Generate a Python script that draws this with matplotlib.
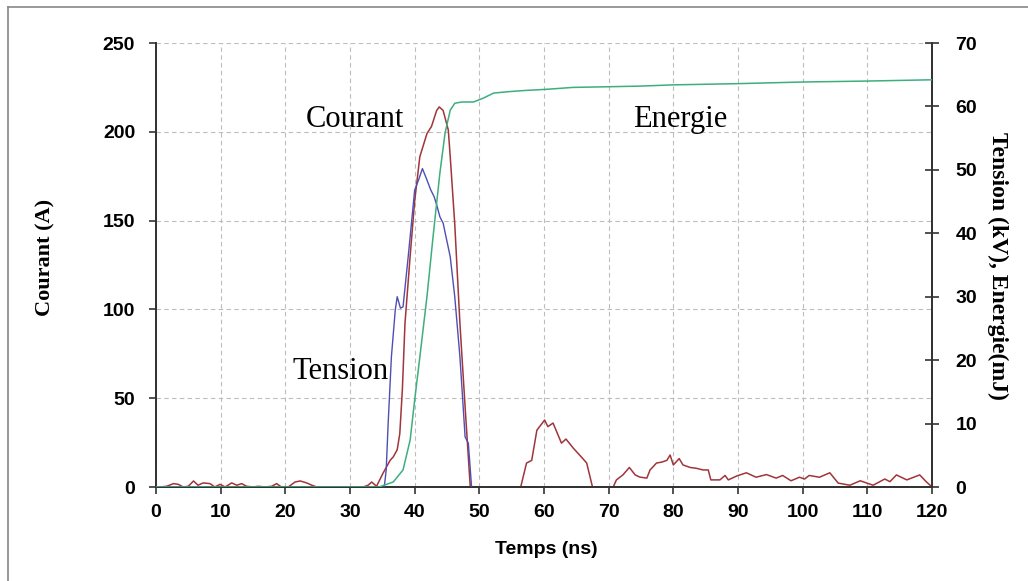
import numpy as np
from matplotlib import pyplot as plt

nan = np.nan

# Courant (A), left axis -- nan breaks where the trace dips below zero
t_courant = [0.1, 0.6, 1.65, 2.7, 3.45, 4.2, 5.0, 5.8, 6.5, 7.3, 8.35, 9.1, 9.9, 10.7, 11.7, 12.5,
             13.25, 14.0, 15.05, 15.8, 16.85, 17.9, 18.65, 19.4, 20.45, 21.5, 22.3, 23.3, 24.1, 24.85,
             28.0, 32.05, 32.8, 33.35, 34.1, 35.1, 36.2, 36.7, 37.3, 37.7, 38.1, 38.5, 39.3, 40.0,
             40.8, 41.9, 42.6, 43.4, 43.8, 44.4, 45.2, 45.5, 46.2, 47.0, 47.8, 48.6,
             52.0, 56.4, 57.3, 58.1, 58.9, 60.1, 60.6, 61.4, 62.7, 63.4, 64.5, 66.0, 66.6, 67.5,
             69.0, 70.7, 71.2, 72.2, 73.2, 74.1, 74.8, 75.9, 76.4, 77.4, 78.2, 79.0, 79.5, 80.0,
             80.9, 81.5, 82.6, 83.6, 84.6, 85.4, 85.8, 87.2, 88.0, 88.5, 89.8, 91.3, 92.8, 94.4,
             95.9, 96.9, 98.2, 99.5, 100.3, 101.0, 102.6, 104.2, 105.5, 107.3, 108.9, 110.9,
             112.7, 113.5, 114.5, 116.1, 118.1, 119.1, 120.0]
courant = [0, 0, 0.4, 1.9, 1.5, 0, 0.4, 3.4, 1.0, 2.3, 1.9, 0, 1.5, 0, 2.3, 1.0,
           1.9, 0.4, 0, 0.4, 0, 0.4, 1.9, 0, 0, 2.8, 3.4, 2.3, 1.0, 0,
           nan, 0, 1.0, 2.8, 0.4, 7.7, 15, 17, 21, 30, 55, 92, 130, 161,
           186, 199, 203, 212, 214, 212, 201, 186, 148, 92, 45, 0,
           nan, 0, 13.5, 15, 32, 37.7, 34, 36, 24.7, 27, 22, 16, 13.5, 0,
           nan, 0, 4, 6.8, 11, 6.8, 5.6, 5, 9.6, 13.5, 14, 15, 18, 12.4,
           16, 12.4, 11, 10.5, 9.6, 9.6, 4, 4, 6.5, 4, 6.2, 8, 5.5, 7,
           5, 6.5, 3.5, 5.5, 4.5, 6.5, 5.5, 8, 2.2, 1, 3.5, 1,
           4.5, 3, 6.8, 4, 6.8, 3, 0]

# Tension (kV), right axis
t_tension = [0, 7.5, 20.0, 35.3, 35.6, 35.9, 36.4, 37.0, 37.3, 37.8, 38.2, 39.0, 40.0, 40.6, 41.2,
             41.9, 42.5, 43.0, 43.4, 43.9, 44.4, 45.5, 46.2, 47.0, 47.8, 48.3, 48.8]
tension = [0, 0, nan, 0, 2.7, 10, 20.5, 27.9, 30, 28.2, 28.4, 36.3, 46.8, 48.4, 50.2,
           48.4, 46.8, 45.8, 44.5, 42.6, 41.6, 36.3, 30, 20.5, 7.9, 6.9, 0]

# Energie (mJ), right axis
t_energie = [0, 34.5, 36.7, 38.2, 39.3, 40.0, 40.8, 41.9, 42.9, 43.9, 44.7, 45.5, 46.2, 47.3, 49.1,
             50.6, 52.2, 54.2, 56.8, 60.4, 64.5, 69.7, 74.8, 80.0, 85.2, 90.3, 100, 110, 120]
energie = [0, 0, 0.8, 2.7, 7.4, 13.7, 20.5, 30, 40, 49.5, 55.8, 59.4, 60.5, 60.7, 60.7,
           61.3, 62.1, 62.3, 62.5, 62.7, 63.0, 63.1, 63.2, 63.4, 63.5, 63.6, 63.85, 64.0, 64.2]

x_ticks = np.arange(0, 121, 10)
left_ticks = np.arange(0, 251, 50)
right_ticks = np.arange(0, 71, 10)

red = '#A0353A'
blue = '#4E4EB4'
green = '#3DAE7E'

tick_font = dict(family='Liberation Sans', weight='bold', size=14)

fig = plt.figure(figsize=(10.28, 5.81), dpi=100)
ax = fig.add_axes([156 / 1028, 94 / 581, 776 / 1028, 444 / 581])
ax2 = ax.twinx()

ax.plot(t_courant, courant, color=red, lw=1.1, zorder=3)
ax2.plot(t_tension, tension, color=blue, lw=1.0, zorder=3)
ax2.plot(t_energie, energie, color=green, lw=1.1, zorder=3)

ax.set_xlim(0, 120)
ax.set_ylim(0, 250)
ax2.set_ylim(0, 70)
ax.set_xticks(x_ticks)
ax.set_yticks(left_ticks)
ax2.set_yticks(right_ticks)

ax.grid(True, color='#BDBDBD', linestyle=(0, (4, 3)), linewidth=0.8)
ax.set_axisbelow(True)

for a in (ax, ax2):
    a.spines['top'].set_visible(False)
    for s in ('left', 'right', 'bottom'):
        a.spines[s].set_color('#333333')
        a.spines[s].set_linewidth(1.3)

ax.tick_params(axis='x', direction='out', length=5, width=1.2, pad=7.5, color='#333333')
ax.tick_params(axis='y', direction='out', length=5, width=1.2, pad=10, color='#333333')
ax2.tick_params(axis='y', direction='inout', length=10, width=1.2, pad=12, color='#333333')
for lab in ax.get_xticklabels() + ax.get_yticklabels() + ax2.get_yticklabels():
    lab.set_fontproperties(tick_font)

ax.set_xlabel('Temps (ns)', family='Liberation Sans', weight='bold', size=14)
ax.xaxis.set_label_coords(0.503, -0.122)
ax.set_ylabel('Courant (A)', family='Liberation Serif', weight='bold', size=16)
ax.yaxis.set_label_coords(-0.130, 0.516)
ax2.set_ylabel('Tension (kV), Energie(mJ)', family='Liberation Serif', weight='bold', size=17,
               rotation=270, va='center')
ax2.yaxis.set_label_coords(1.084, 0.498)

ax.text(30.8, 207, 'Courant', family='Liberation Serif', size=22, ha='center', va='center')
ax.text(28.5, 65, 'Tension', family='Liberation Serif', size=22, ha='center', va='center')
ax.text(81, 207, 'Energie', family='Liberation Serif', size=22, ha='center', va='center')

# frame edges of the original picture (left and top only)
fig.add_artist(plt.Line2D([7.5 / 1028, 7.5 / 1028], [0, 1 - 6.5 / 581], color='#888888', lw=1.2))
fig.add_artist(plt.Line2D([7.5 / 1028, 1], [1 - 6.5 / 581, 1 - 6.5 / 581], color='#888888', lw=1.2))

fig.savefig('out.png', dpi=100)
